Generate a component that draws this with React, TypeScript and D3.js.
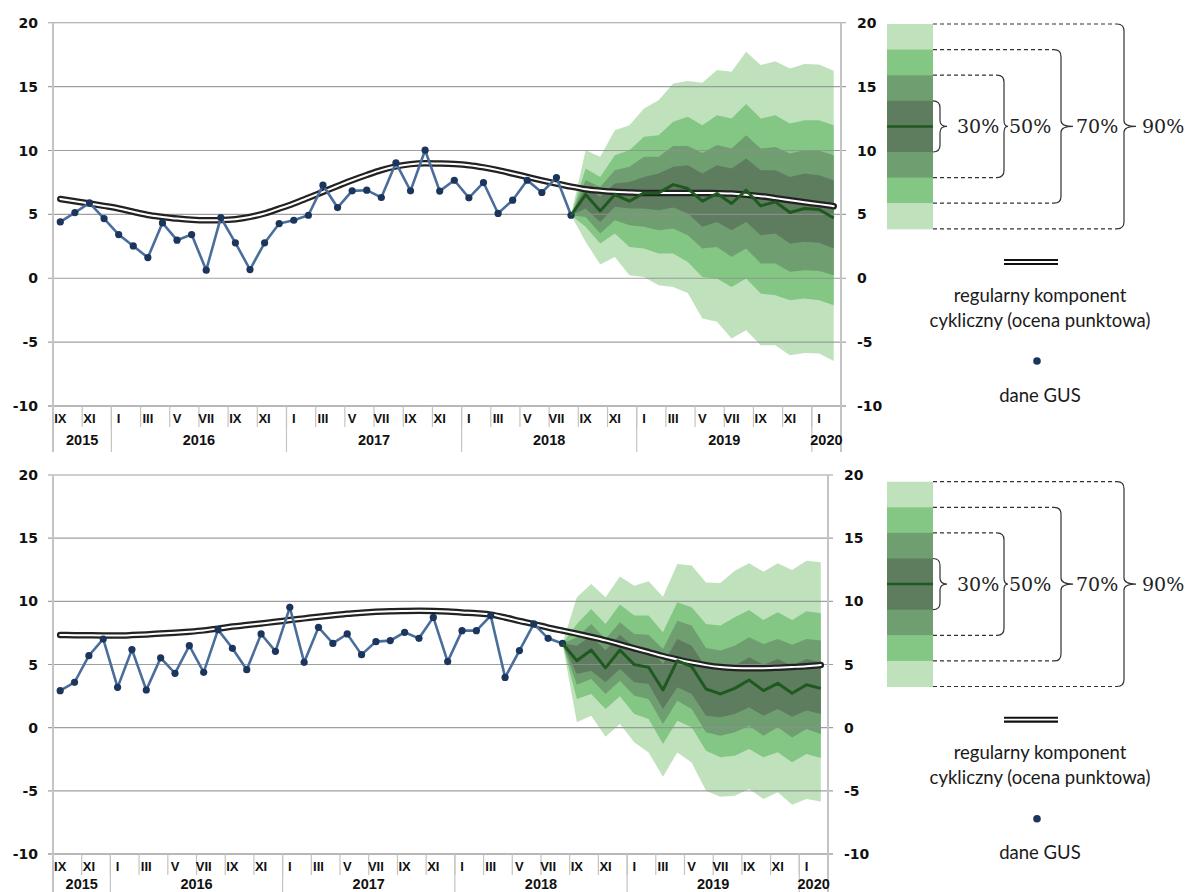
import React from 'react';
import * as d3 from 'd3';

// months: IX 2015 .. II 2020
const ROMAN = ['I', 'II', 'III', 'IV', 'V', 'VI', 'VII', 'VIII', 'IX', 'X', 'XI', 'XII'];
const START_YEAR = 2015;
const START_MONTH = 8; // September, zero based
const N_MONTHS = 54;
const Y_TICKS = [-10, -5, 0, 5, 10, 15, 20];
const LEVELS = ['90%', '70%', '50%', '30%'];
const FAN_COLORS = ['#bfe2bd', '#84c784', '#6f9f70', '#5e7d5f'];

// upper panel
const topActual = [
  4.41, 5.14, 5.9, 4.67,
  3.42, 2.53, 1.62, 4.33, 2.98, 3.42, 0.63, 4.75, 2.77, 0.68, 2.77, 4.28,
  4.54, 4.93, 7.28, 5.53, 6.84, 6.89, 6.32, 9.03, 6.84, 10.02, 6.82, 7.67,
  6.29, 7.49, 5.07, 6.11, 7.67, 6.71, 7.88, 4.93,
];
const topCyclic = [
  6.2, 6.03, 5.85, 5.66,
  5.46, 5.2, 4.95, 4.8, 4.67, 4.58, 4.54, 4.55, 4.62, 4.8, 5.07, 5.45,
  5.85, 6.3, 6.76, 7.22, 7.67, 8.08, 8.46, 8.75, 8.93, 9.0, 8.98, 8.94,
  8.85, 8.68, 8.46, 8.2, 7.93, 7.66, 7.41, 7.17, 6.97, 6.85, 6.76, 6.71,
  6.68, 6.68, 6.68, 6.68, 6.68, 6.66, 6.63, 6.54, 6.42, 6.27, 6.11, 5.95,
  5.8, 5.64,
];
const topForecast = [4.93, 6.55, 5.27, 6.55, 6.03, 6.68, 6.68, 7.33, 7.02, 6.03, 6.63, 5.85, 6.89, 5.66, 5.98, 5.14, 5.46, 5.38, 4.72];
const topUp90 = [10.02, 9.5, 11.59, 11.98, 13.29, 13.94, 15.25, 15.43, 15.3, 16.29, 16.16, 17.72, 16.68, 16.99, 16.42, 16.76, 16.73, 16.23];
const topUp70 = [8.59, 7.93, 9.63, 10.02, 11.07, 11.2, 12.24, 12.63, 11.98, 12.76, 12.5, 13.63, 12.5, 12.76, 12.11, 12.37, 12.37, 11.98];
const topUp50 = [7.67, 7.15, 8.46, 8.72, 9.5, 9.5, 10.34, 10.34, 9.81, 10.42, 10.15, 11.2, 10.15, 10.28, 9.76, 10.02, 9.97, 9.63];
const topUp30 = [7.15, 6.37, 7.41, 7.54, 7.93, 8.2, 8.72, 8.85, 8.2, 8.85, 8.59, 9.37, 8.46, 8.46, 7.93, 8.2, 8.07, 7.67];
const topLo30 = [5.46, 4.41, 5.59, 5.46, 5.46, 5.32, 5.53, 5.06, 4.02, 4.41, 3.76, 4.41, 3.37, 3.5, 2.71, 2.85, 2.77, 2.32];
const topLo50 = [4.8, 3.5, 4.54, 4.15, 4.02, 3.76, 3.89, 3.37, 2.32, 2.45, 1.67, 2.32, 1.15, 1.15, 0.5, 0.63, 0.57, 0.23];
const topLo70 = [4.02, 2.71, 3.5, 2.45, 2.32, 1.93, 1.93, 1.28, 0.1, -0.03, -0.68, -0.03, -1.2, -1.33, -1.72, -1.59, -1.72, -2.11];
const topLo90 = [2.85, 1.07, 1.67, 0.23, 0.1, -0.55, -0.68, -1.15, -3.16, -3.4, -4.72, -4.07, -5.25, -5.25, -6.03, -5.85, -5.9, -6.47];

// lower panel
const botActual = [
  2.93, 3.59, 5.7, 7.02,
  3.19, 6.18, 2.98, 5.52, 4.3, 6.49, 4.38, 7.76, 6.28, 4.59, 7.42, 6.04,
  9.53, 5.17, 7.94, 6.67, 7.42, 5.78, 6.81, 6.89, 7.55, 7.07, 8.73, 5.23,
  7.68, 7.68, 8.87, 3.98, 6.1, 8.21, 7.07, 6.67,
];
const botCyclic = [
  7.33, 7.32, 7.31, 7.3,
  7.3, 7.33, 7.38, 7.45, 7.52, 7.6, 7.7, 7.84, 8.0, 8.12, 8.25, 8.38,
  8.52, 8.65, 8.78, 8.9, 9.02, 9.1, 9.17, 9.22, 9.24, 9.25, 9.24, 9.2,
  9.12, 9.05, 8.95, 8.72, 8.45, 8.2, 7.92, 7.68, 7.44, 7.18, 6.91, 6.6,
  6.28, 5.98, 5.67, 5.4, 5.15, 4.95, 4.8, 4.73, 4.7, 4.71, 4.75, 4.8,
  4.86, 4.96,
];
const botForecast = [6.67, 5.3, 6.15, 4.73, 6.15, 4.99, 4.78, 2.98, 5.3, 4.83, 3.06, 2.67, 3.11, 3.77, 2.93, 3.51, 2.72, 3.4, 3.11];
const botUp90 = [10.32, 11.38, 10.32, 11.96, 11.24, 11.58, 10.37, 12.96, 12.83, 11.5, 11.45, 12.43, 13.01, 12.35, 13.01, 12.48, 13.22, 13.09];
const botUp70 = [8.21, 9.4, 8.21, 9.74, 8.87, 8.87, 7.55, 9.92, 9.53, 8.21, 8.08, 8.74, 9.32, 8.52, 9.13, 8.52, 9.21, 9.05];
const botUp50 = [7.15, 8.21, 7.02, 8.34, 7.42, 7.36, 6.23, 8.47, 8.08, 6.31, 6.1, 6.49, 7.15, 6.62, 7.02, 6.57, 7.02, 6.89];
const botUp30 = [6.49, 7.28, 6.1, 7.36, 6.41, 6.31, 5.04, 7.02, 6.49, 4.78, 4.51, 4.91, 5.57, 4.99, 5.44, 4.91, 5.44, 5.17];
const botLo30 = [4.25, 4.51, 3.59, 4.65, 3.59, 3.46, 1.48, 3.19, 2.67, 0.95, 0.82, 1.08, 1.61, 0.95, 1.48, 0.87, 1.35, 1.08];
const botLo50 = [3.4, 3.85, 2.67, 3.72, 2.53, 2.27, 0.29, 2.14, 1.48, -0.37, -0.63, -0.37, 0.16, -0.63, 0.03, -0.77, -0.11, -0.5];
const botLo70 = [2.27, 2.67, 1.48, 2.48, 1.08, 0.69, -1.29, 0.55, 0.03, -1.82, -2.35, -2.22, -1.69, -2.35, -1.95, -2.74, -2.08, -2.4];
const botLo90 = [0.42, 0.95, -0.71, 0.29, -1.16, -1.96, -3.88, -1.96, -2.75, -4.99, -5.46, -5.38, -4.86, -5.65, -5.12, -6.1, -5.65, -5.84];

const periods = d3.range(N_MONTHS).map((i) => ({
  i,
  month: (START_MONTH + i) % 12,
  year: START_YEAR + Math.floor((START_MONTH + i) / 12),
}));

const tickFont = "'DejaVu Sans', sans-serif";
const catFont = "'Liberation Sans Narrow', 'Liberation Sans', Arial, sans-serif";

type PanelProps = {
  actual: number[];
  cyclic: number[];
  forecast: number[];
  up: number[][];
  lo: number[][];
  top: number;
  bottom: number;
  right: number;
  yearOffset: number;
};

function Panel({ actual, cyclic, forecast, up, lo, top, bottom, right, yearOffset }: PanelProps) {
  const left = 53;
  const x = d3.scaleBand<number>().domain(d3.range(N_MONTHS)).range([left, right]).padding(0);
  const bw = x.bandwidth();
  const cx = (i: number) => (x(i) as number) + bw / 2;
  const y = d3.scaleLinear().domain([-10, 20]).range([bottom, top]);
  const f0 = actual.length - 1;

  const fanArea = d3
    .area<[number, number, number]>()
    .x((d) => cx(d[0]))
    .y0((d) => y(d[1]))
    .y1((d) => y(d[2]));

  const fans = up.map((u, k) => {
    const pts: [number, number, number][] = [[f0, forecast[0], forecast[0]]];
    u.forEach((v, j) => pts.push([f0 + 1 + j, lo[k][j], v]));
    return fanArea(pts) as string;
  });

  const line = d3
    .line<number>()
    .x((_, i) => cx(i))
    .y((d) => y(d));
  const smooth = d3
    .line<number>()
    .x((_, i) => cx(i))
    .y((d) => y(d))
    .curve(d3.curveMonotoneX);
  const fLine = d3
    .line<number>()
    .x((_, i) => cx(f0 + i))
    .y((d) => y(d));

  const years = d3.groups(periods, (p) => p.year).map(([yr, ps]) => ({
    yr,
    x0: x(ps[0].i) as number,
    x1: (x(ps[ps.length - 1].i) as number) + bw,
  }));

  const axisY = bottom;
  return (
    <g>
      {fans.map((d, k) => (
        <path key={k} d={d} fill={FAN_COLORS[k]} />
      ))}
      {Y_TICKS.map((t) => (
        <g key={t}>
          <line
            x1={left - 5}
            x2={right + 5}
            y1={y(t)}
            y2={y(t)}
            stroke={t === -10 ? '#b8b8b8' : '#8f8f8f'}
            strokeWidth={t === -10 ? 2 : 1.1}
            opacity={t === -10 ? 1 : 0.85}
          />
          <text x={38} y={y(t)} dy="0.36em" textAnchor="end" fontFamily={tickFont} fontWeight="bold" fontSize={14} fill="#111">
            {t}
          </text>
          <text x={right + 16} y={y(t)} dy="0.36em" textAnchor="start" fontFamily={tickFont} fontWeight="bold" fontSize={14} fill="#111">
            {t}
          </text>
        </g>
      ))}
      <line x1={left} x2={left} y1={top} y2={axisY + 46} stroke="#c4c4c4" strokeWidth={2} />
      <line x1={right} x2={right} y1={top} y2={axisY + 46} stroke="#c4c4c4" strokeWidth={2} />
      {/* category axis */}
      {periods.map((p) =>
        p.i % 2 === 0 ? (
          <g key={p.i}>
            <text x={cx(p.i)} y={axisY + 12} dy="0.36em" textAnchor="middle" fontFamily={catFont} fontWeight="bold" fontSize={13} fill="#111">
              {ROMAN[p.month]}
            </text>
            <line x1={(x(p.i) as number) + bw * 2} x2={(x(p.i) as number) + bw * 2} y1={axisY} y2={axisY + 21} stroke="#c4c4c4" strokeWidth={1.2} />
          </g>
        ) : null
      )}
      {years.map((yy) => (
        <g key={yy.yr}>
          <line x1={yy.x0} x2={yy.x0} y1={axisY} y2={axisY + 46} stroke="#c4c4c4" strokeWidth={1.2} />
          <text x={(yy.x0 + yy.x1) / 2} y={axisY + yearOffset} dy="0.36em" textAnchor="middle" fontFamily={catFont} fontWeight="bold" fontSize={14.5} fill="#111">
            {yy.yr}
          </text>
        </g>
      ))}
      {/* regular cyclical component: double line */}
      <path d={smooth(cyclic) as string} fill="none" stroke="#222" strokeWidth={6.5} strokeLinecap="round" />
      <path d={smooth(cyclic) as string} fill="none" stroke="#fff" strokeWidth={2} strokeLinecap="round" />
      {/* GUS data */}
      <path d={line(actual) as string} fill="none" stroke="#4a6e9b" strokeWidth={2.6} />
      {actual.map((v, i) => (
        <circle key={i} cx={cx(i)} cy={y(v)} r={3.6} fill="#1b355c" />
      ))}
      <path d={fLine(forecast) as string} fill="none" stroke="#1e5a20" strokeWidth={3} strokeLinejoin="round" />
    </g>
  );
}

function brace(xv: number, xt: number, yTop: number, yBot: number, r: number) {
  const ym = (yTop + yBot) / 2;
  const r2 = Math.min(r, 6);
  return `M${xv - r},${yTop} Q${xv},${yTop} ${xv},${yTop + r} V${ym - r2} Q${xv},${ym} ${xt},${ym} Q${xv},${ym} ${xv},${ym + r2} V${yBot - r} Q${xv},${yBot} ${xv - r},${yBot}`;
}

function Legend({ barTop }: { barTop: number }) {
  const bx = 887;
  const bwid = 46;
  const h = 25.6;
  const segColors = [0, 1, 2, 3, 3, 2, 1, 0].map((k) => FAN_COLORS[k]);
  const mid = barTop + 4 * h;
  const braces = [
    { label: LEVELS[3], from: 3, to: 5, xv: 940, xt: 947, tx: 957, dashed: false },
    { label: LEVELS[2], from: 2, to: 6, xv: 1004, xt: 1008, tx: 1009, dashed: true },
    { label: LEVELS[1], from: 1, to: 7, xv: 1061, xt: 1073, tx: 1076, dashed: true },
    { label: LEVELS[0], from: 0, to: 8, xv: 1124, xt: 1136, tx: 1142, dashed: true },
  ];
  const legFont = "Lato, 'Open Sans', sans-serif";
  return (
    <g>
      {segColors.map((c, i) => (
        <rect key={i} x={bx} y={barTop + i * h} width={bwid} height={h + 0.5} fill={c} />
      ))}
      <line x1={bx} x2={bx + bwid} y1={mid} y2={mid} stroke="#1e5a20" strokeWidth={2.5} />
      {braces.map((b) => {
        const yT = barTop + b.from * h;
        const yB = barTop + b.to * h;
        const r = 7;
        return (
          <g key={b.label} fill="none" stroke="#333" strokeWidth={1.2}>
            <line x1={bx + bwid} x2={b.xv - r} y1={yT} y2={yT} strokeDasharray={b.dashed ? '4,3' : undefined} />
            <line x1={bx + bwid} x2={b.xv - r} y1={yB} y2={yB} strokeDasharray={b.dashed ? '4,3' : undefined} />
            <path d={brace(b.xv, b.xt, yT, yB, r)} />
            <text x={b.tx} y={mid} dy="0.36em" fontFamily="'DejaVu Serif', serif" fontSize={19} fill="#222" stroke="none">
              {b.label}
            </text>
          </g>
        );
      })}
      <line x1={1004} x2={1058} y1={barTop + 238} y2={barTop + 238} stroke="#111" strokeWidth={6} />
      <line x1={1004} x2={1058} y1={barTop + 238} y2={barTop + 238} stroke="#fff" strokeWidth={1.8} />
      <text x={1040} y={barTop + 271} dy="0.36em" textAnchor="middle" fontFamily={legFont} fontSize={18.5} fill="#1a1a1a">
        regularny komponent
      </text>
      <text x={1040} y={barTop + 296} dy="0.36em" textAnchor="middle" fontFamily={legFont} fontSize={18.5} fill="#1a1a1a">
        cykliczny (ocena punktowa)
      </text>
      <circle cx={1037} cy={barTop + 337} r={3.8} fill="#1b355c" />
      <text x={1040} y={barTop + 371} dy="0.36em" textAnchor="middle" fontFamily={legFont} fontSize={18.5} fill="#1a1a1a">
        dane GUS
      </text>
    </g>
  );
}

export default function App() {
  return (
    <svg width={1188} height={892} style={{ position: 'absolute', left: 0, top: 0, background: '#fff' }}>
      <rect width={1188} height={892} fill="#fff" />
      <Panel
        actual={topActual}
        cyclic={topCyclic}
        forecast={topForecast}
        up={[topUp90, topUp70, topUp50, topUp30]}
        lo={[topLo90, topLo70, topLo50, topLo30]}
        top={22.7}
        bottom={406}
        right={841}
        yearOffset={34}
      />
      <Legend barTop={24} />
      <Panel
        actual={botActual}
        cyclic={botCyclic}
        forecast={botForecast}
        up={[botUp90, botUp70, botUp50, botUp30]}
        lo={[botLo90, botLo70, botLo50, botLo30]}
        top={475}
        bottom={854}
        right={828}
        yearOffset={30}
      />
      <Legend barTop={481.7} />
    </svg>
  );
}
